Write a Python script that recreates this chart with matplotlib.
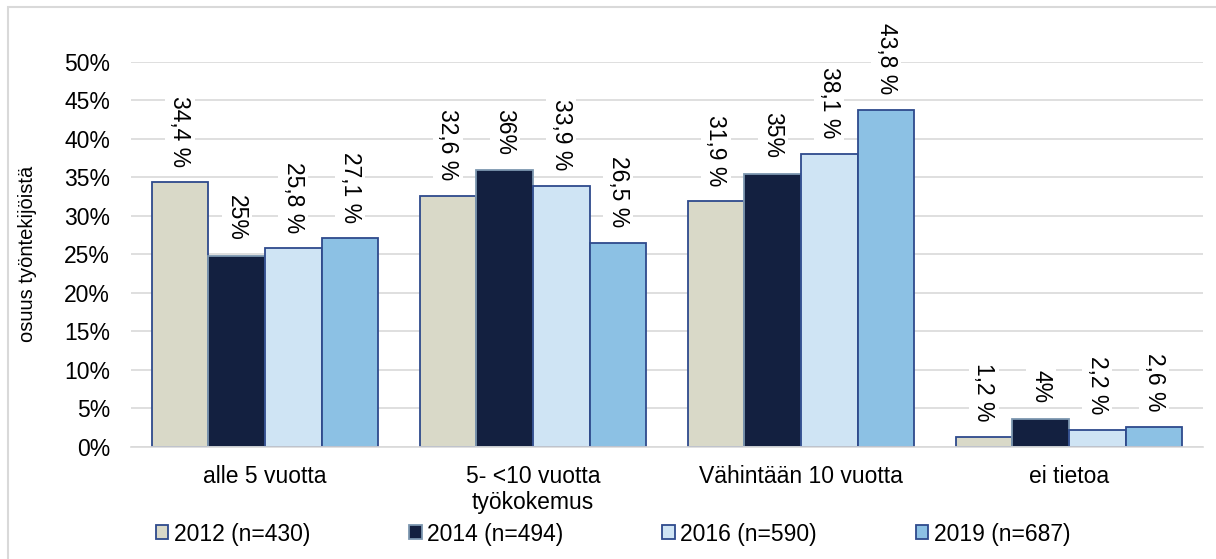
import matplotlib.pyplot as plt
import numpy as np
from matplotlib.patches import Patch, Rectangle

plt.rcParams['font.family'] = ['Liberation Sans', 'DejaVu Sans']

categories = ['alle 5 vuotta', '5- <10 vuotta\ntyökokemus', 'Vähintään 10 vuotta', 'ei tietoa']
series = ['2012 (n=430)', '2014 (n=494)', '2016 (n=590)', '2019 (n=687)']

v2012 = [34.4, 32.6, 31.9, 1.2]
v2014 = [24.8, 35.9, 35.5, 3.6]
v2016 = [25.8, 33.9, 38.1, 2.2]
v2019 = [27.1, 26.5, 43.8, 2.6]

l2012 = ['34,4 %', '32,6 %', '31,9 %', '1,2 %']
l2014 = ['25%', '36%', '35%', '4%']
l2016 = ['25,8 %', '33,9 %', '38,1 %', '2,2 %']
l2019 = ['27,1 %', '26,5 %', '43,8 %', '2,6 %']

values = [v2012, v2014, v2016, v2019]
labels = [l2012, l2014, l2016, l2019]
fills = ['#D9D9C8', '#132040', '#CFE4F4', '#8CC1E4']
edges = ['#2E4A8C', '#7D97B0', '#2E4A8C', '#2E4A8C']

FS = 16.5

fig = plt.figure(figsize=(12.16, 5.59), dpi=100)
W, H = 1216, 559
ax = fig.add_axes([131 / W, 1 - 446.5 / H, (1203 - 131) / W, (446.5 - 62) / H])

x = np.arange(len(categories))
bw = 0.2115
for i in range(4):
    pos = x + (i - 1.5) * bw
    bars = ax.bar(pos, values[i], bw, color=fills[i], edgecolor=edges[i],
                  linewidth=1.3, zorder=2, label=series[i])
    for b, txt in zip(bars, labels[i]):
        ax.annotate(txt, (b.get_x() + b.get_width() / 2, b.get_height()),
                    xytext=(0, 11), textcoords='offset points',
                    rotation=-90, ha='center', va='bottom', fontsize=FS,
                    bbox=dict(boxstyle='square,pad=0.15', fc='white', ec='none'),
                    zorder=3)

ax.set_xlim(-0.5, 3.5)
ax.set_ylim(0, 50)
ax.set_yticks(np.arange(0, 51, 5))
ax.set_yticklabels([f'{t}%' for t in range(0, 51, 5)])
ax.set_xticks(x)
ax.set_xticklabels(categories)
ax.tick_params(axis='both', length=0, labelsize=FS)
ax.tick_params(axis='x', pad=13)
ax.tick_params(axis='y', pad=15)
ax.grid(axis='y', color='#D9D9D9', linewidth=1.2, zorder=0)
ax.set_axisbelow(True)
for s in ['top', 'right', 'left']:
    ax.spines[s].set_visible(False)
ax.spines['bottom'].set_color('#D9D9D9')
ax.spines['bottom'].set_linewidth(1.2)

fig.text(28 / W, 1 - 254 / H, 'osuus työntekijöistä', rotation=90,
         ha='center', va='center', fontsize=14.5)

handles = [Patch(facecolor=fills[i], edgecolor=edges[i], linewidth=1.3) for i in range(4)]
fig.legend(handles, series, loc='center', bbox_to_anchor=(613 / W, 1 - 534 / H),
           ncol=4, frameon=False, fontsize=FS, handlelength=0.55, handleheight=0.55,
           handletextpad=0.25, columnspacing=4.3, borderaxespad=0)

fig.patches.append(Rectangle((8 / W, -0.1), 1.2, (559 - 7) / H + 0.1,
                             transform=fig.transFigure, fill=False,
                             edgecolor='#D9D9D9', linewidth=1.5))

fig.savefig('out.png', dpi=100)
